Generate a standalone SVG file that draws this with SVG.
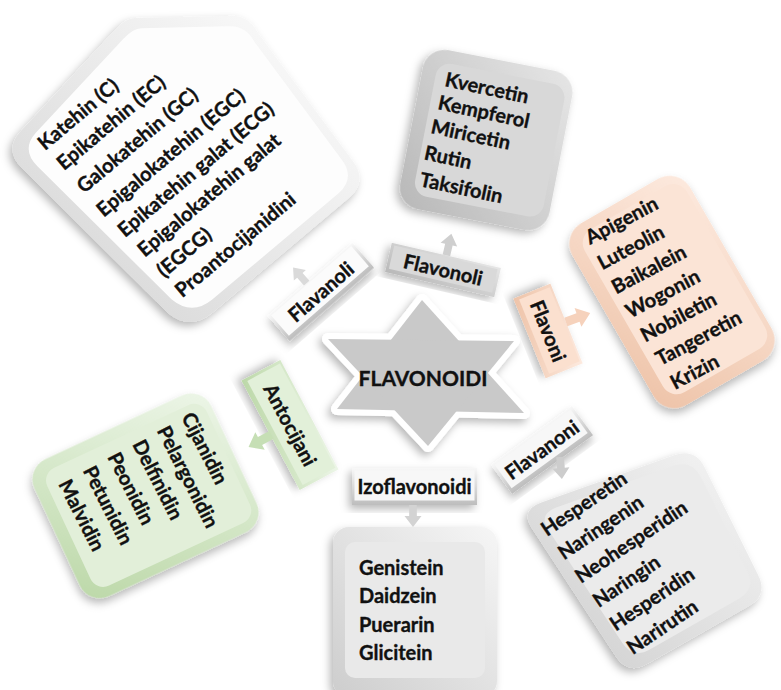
<svg xmlns="http://www.w3.org/2000/svg" xmlns:xlink="http://www.w3.org/1999/xlink" width="781" height="690" viewBox="0 0 781 690">
<style>
.t{font-family:Lato,"Open Sans","Liberation Sans",sans-serif;font-weight:700;font-size:20px;fill:#111;stroke:#111;stroke-width:0.35px}
.c{text-anchor:middle}
</style>
<defs>
<filter id="sh" x="-20%" y="-20%" width="140%" height="140%"><feDropShadow dx="-3" dy="4" stdDeviation="4" flood-color="#000" flood-opacity="0.28"/></filter>
<linearGradient id="gW" x1="1" y1="0" x2="0" y2="1"><stop offset="0" stop-color="#ffffff"/><stop offset="1" stop-color="#d2d2d2"/></linearGradient>
<linearGradient id="gG" x1="1" y1="0" x2="0" y2="1"><stop offset="0" stop-color="#e6e6e6"/><stop offset="1" stop-color="#b8b8b8"/></linearGradient>
<linearGradient id="gP" x1="1" y1="0" x2="0" y2="1"><stop offset="0" stop-color="#fdeadf"/><stop offset="1" stop-color="#eec3a8"/></linearGradient>
<linearGradient id="gL" x1="1" y1="0" x2="0" y2="1"><stop offset="0" stop-color="#f6f6f6"/><stop offset="1" stop-color="#cdcdcd"/></linearGradient>
<linearGradient id="gV" x1="1" y1="0" x2="0" y2="1"><stop offset="0" stop-color="#edf6e8"/><stop offset="1" stop-color="#bcd8a8"/></linearGradient>
<linearGradient id="gLab" x1="0" y1="0" x2="0" y2="1"><stop offset="0" stop-color="#f8f8f8"/><stop offset="1" stop-color="#bdbdbd"/></linearGradient>
<linearGradient id="gStar" x1="0" y1="0" x2="0" y2="1"><stop offset="0" stop-color="#cdcdcd"/><stop offset="1" stop-color="#c4c4c4"/></linearGradient>
<path id="ar" d="M0,-4.5 H13 V-10 L26,0 L13,10 V4.5 H0 Z"/>
</defs>
<rect width="781" height="690" fill="#ffffff"/>

<!-- Flavanoli list -->
<g id="box-flavanoli">
<path filter="url(#sh)" fill="url(#gW)" d="M135,18 L228,16 Q248,14 258,33 L352,160 Q368,180 350,197 L212,313 Q190,331 168,313 L22,168 Q4,150 20,132 L115,30 Q126,18 135,18 Z"/>
<path fill="#fdfdfd" transform="translate(192,168) scale(0.92) translate(-190,-170)" d="M135,18 L228,16 Q248,14 258,33 L352,160 Q368,180 350,197 L212,313 Q190,331 168,313 L22,168 Q4,150 20,132 L115,30 Q126,18 135,18 Z"/>
<g transform="translate(45,151) rotate(-40)">
<text class="t" x="0" y="0">Katehin (C)</text>
<text class="t" x="1.7" y="27.5">Epikatehin (EC)</text>
<text class="t" x="2.2" y="58">Galokatehin (GC)</text>
<text class="t" x="2.1" y="89">Epigalokatehin (EGC)</text>
<text class="t" x="5.4" y="118">Epikatehin galat (ECG)</text>
<text class="t" x="7.8" y="146">Epigalokatehin galat</text>
<text class="t" x="9.5" y="174">(EGCG)</text>
<text class="t" x="10.5" y="201">Proantocijanidini</text>
</g>
</g>

<!-- Flavonoli list -->
<g id="box-flavonoli">
<g transform="translate(486,141) rotate(11)">
<rect filter="url(#sh)" x="-76" y="-82" width="152" height="162" rx="22" fill="url(#gG)"/>
<rect x="-62" y="-69" width="131" height="135" rx="14" fill="#d8d8d8"/>
</g>
<g transform="translate(444,86) rotate(12)">
<text class="t" x="0" y="0">Kvercetin</text>
<text class="t" x="-2" y="24">Kempferol</text>
<text class="t" x="-4" y="49">Miricetin</text>
<text class="t" x="-5" y="76">Rutin</text>
<text class="t" x="-4" y="103">Taksifolin</text>
</g>
</g>

<!-- Flavoni list -->
<g id="box-flavoni">
<g transform="translate(672,292) rotate(-30)">
<rect filter="url(#sh)" x="-68" y="-105" width="136" height="210" rx="24" fill="url(#gP)"/>
<rect x="-55" y="-95" width="118" height="188" rx="16" fill="#fbe4d6"/>
</g>
<g transform="translate(590,245) rotate(-28)">
<text class="t" x="0" y="0">Apigenin</text>
<text class="t" x="-1" y="28">Luteolin</text>
<text class="t" x="0" y="56">Baikalein</text>
<text class="t" x="1" y="84">Wogonin</text>
<text class="t" x="3" y="112">Nobiletin</text>
<text class="t" x="5" y="140">Tangeretin</text>
<text class="t" x="7" y="168">Krizin</text>
</g>
</g>

<!-- Flavanoni list -->
<g id="box-flavanoni">
<path filter="url(#sh)" fill="url(#gL)" d="M540.7,502.7 L674.3,455.3 Q695,448 704.8,467.7 L758.2,575.3 Q768,595 748.9,605.9 L647.1,664.1 Q628,675 615.9,656.6 L532.1,528.4 Q520,510 540.7,502.7 Z"/>
<path fill="#ebebeb" transform="translate(655,558) scale(0.88) translate(-653,-560)" d="M540.7,502.7 L674.3,455.3 Q695,448 704.8,467.7 L758.2,575.3 Q768,595 748.9,605.9 L647.1,664.1 Q628,675 615.9,656.6 L532.1,528.4 Q520,510 540.7,502.7 Z"/>
<g transform="translate(547,537) rotate(-34)">
<text class="t" x="0" y="0">Hesperetin</text>
<text class="t" x="1" y="29">Naringenin</text>
<text class="t" x="2" y="58">Neohesperidin</text>
<text class="t" x="3" y="88">Naringin</text>
<text class="t" x="4" y="117">Hesperidin</text>
<text class="t" x="5" y="146">Narirutin</text>
</g>
</g>

<!-- Izoflavonoidi list -->
<g id="box-izoflavonoidi">
<rect filter="url(#sh)" x="333" y="527" width="164" height="170" rx="16" fill="url(#gL)"/>
<rect x="345" y="542" width="140" height="136" rx="10" fill="#e9e9e9"/>
<text class="t" x="359" y="575">Genistein</text>
<text class="t" x="359" y="603">Daidzein</text>
<text class="t" x="359" y="632">Puerarin</text>
<text class="t" x="359" y="660">Glicitein</text>
</g>

<!-- Antocijani list -->
<g id="box-antocijani">
<g transform="translate(145.5,495.75) rotate(-25)">
<rect filter="url(#sh)" x="-97.5" y="-75.5" width="195" height="151" rx="22" fill="url(#gV)"/>
<rect x="-85" y="-64" width="176" height="130" rx="14" fill="#e2efd9"/>
</g>
<g transform="translate(181,417) rotate(63)">
<text class="t" x="0" y="0">Cijanidin</text>
<text class="t" x="1" y="28">Pelargonidin</text>
<text class="t" x="2" y="56">Delfinidin</text>
<text class="t" x="2" y="84">Peonidin</text>
<text class="t" x="3" y="112">Petunidin</text>
<text class="t" x="4" y="140">Malvidin</text>
</g>
</g>

<!-- center star -->
<g id="star-flavonoidi">
<g filter="url(#sh)">
<polygon points="422,300 524,413 337,409" fill="#fff" stroke="#fff" stroke-width="12" stroke-linejoin="round"/>
<polygon points="428,446 328,339 514,341" fill="#fff" stroke="#fff" stroke-width="12" stroke-linejoin="round"/>
</g>
<polygon points="422,300 524,413 337,409" fill="#c9c9c9"/>
<polygon points="428,446 328,339 514,341" fill="#c9c9c9"/>
<text class="t c" x="423" y="386" style="font-size:21px">FLAVONOIDI</text>
</g>

<!-- category labels -->
<g id="label-flavanoli" transform="translate(321,292) rotate(-41)">
<rect filter="url(#sh)" x="-56" y="-16.5" width="112" height="33" fill="url(#gLab)"/>
<rect x="-53" y="-15" width="106" height="27" fill="#fbfbfb"/>
<text class="t c" x="0" y="7">Flavanoli</text>
</g>
<g id="label-flavonoli" transform="translate(443,270) rotate(13)">
<rect filter="url(#sh)" x="-56" y="-15" width="112" height="30" fill="url(#gG)"/>
<rect x="-53" y="-13" width="106" height="24" fill="#d9d9d9"/>
<text class="t c" x="0" y="7">Flavonoli</text>
</g>
<g id="label-flavoni" transform="translate(548,331) rotate(68)">
<rect filter="url(#sh)" x="-43" y="-20" width="86" height="40" fill="url(#gP)"/>
<rect x="-40" y="-18" width="80" height="33" fill="#fbe0cf"/>
<text class="t c" x="0" y="7">Flavoni</text>
</g>
<g id="label-antocijani" transform="translate(290,425) rotate(62)">
<rect filter="url(#sh)" x="-62" y="-22" width="124" height="44" fill="url(#gV)"/>
<rect x="-59" y="-20" width="118" height="37" fill="#e2f0d9"/>
<text class="t c" x="0" y="7">Antocijani</text>
</g>
<g id="label-izoflavonoidi" transform="translate(414.5,486.5)">
<rect filter="url(#sh)" x="-62.5" y="-18.5" width="125" height="37" fill="url(#gLab)"/>
<rect x="-60" y="-16" width="120" height="30" fill="#f7f7f7"/>
<text class="t c" x="0" y="7">Izoflavonoidi</text>
</g>
<g id="label-flavanoni" transform="translate(542,450) rotate(-36)">
<rect filter="url(#sh)" x="-50" y="-18" width="100" height="36" fill="url(#gLab)"/>
<rect x="-47" y="-16" width="94" height="29" fill="#f7f7f7"/>
<text class="t c" x="0" y="7">Flavanoni</text>
</g>

<!-- connectors -->
<g id="connectors">
<use xlink:href="#ar" transform="translate(306.7,283.2) rotate(-131) scale(0.8)" fill="#dadada"/>
<use xlink:href="#ar" transform="translate(446.4,255.4) rotate(-77) scale(0.85)" fill="#cfcfcf"/>
<use xlink:href="#ar" transform="translate(565.8,321.9) rotate(-20)" fill="#f6d2bc"/>
<use xlink:href="#ar" transform="translate(271.5,434.9) rotate(152)" fill="#c6dfb5"/>
<use xlink:href="#ar" transform="translate(413,505) rotate(90) scale(0.85)" fill="#d3d3d3"/>
<use xlink:href="#ar" transform="translate(560,457) rotate(85) scale(0.85)" fill="#cdcdcd"/>
</g>
</svg>
